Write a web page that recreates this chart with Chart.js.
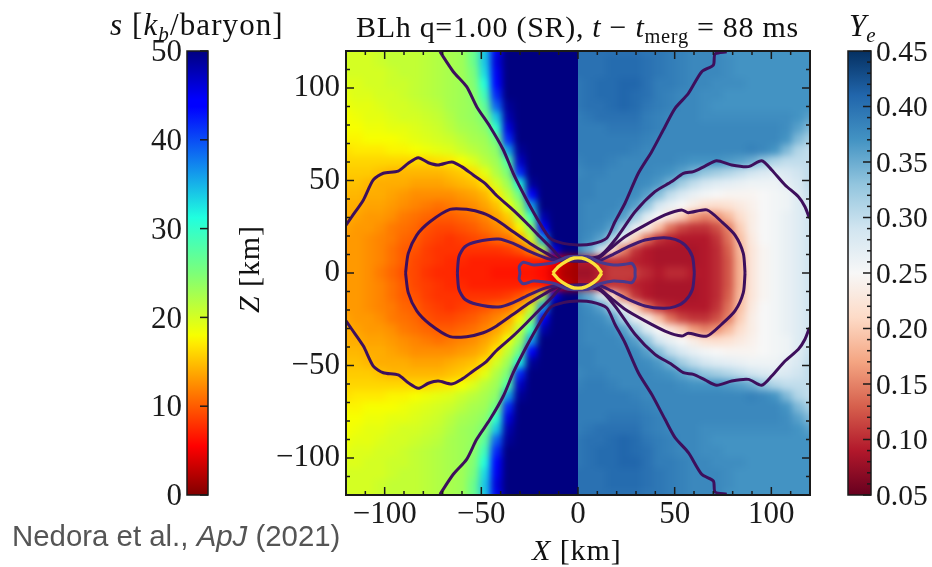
<!DOCTYPE html>
<html>
<head>
<meta charset="utf-8">
<style>
  html, body { margin: 0; padding: 0; background: #fff; width: 932px; height: 567px; overflow: hidden; }
  canvas { position: absolute; left: 0; top: 0; }
  .clip { position: absolute; left: 0; top: 0; width: 932px; height: 567px; }
  .clip canvas { filter: blur(3.5px); }
  .txt { position: absolute; font-family: "Liberation Serif", serif; color: #111; white-space: nowrap; line-height: 1; }
  .txt i { font-style: italic; }
  .txt sub { font-size: 68%; line-height: 0; vertical-align: -0.28em; }
  #credit { font-family: "Liberation Sans", sans-serif; color: #555; font-size: 29.4px; left: 12px; top: 521px; }
</style>
</head>
<body>
<div class="clip" style="clip-path: inset(51px 354px 72px 346px)"><canvas id="heatLeft" width="932" height="567"></canvas></div>
<div class="clip" style="clip-path: inset(51px 122px 72px 578px)"><canvas id="heatRight" width="932" height="567"></canvas></div>
<canvas id="mainChart" width="932" height="567"></canvas>
<canvas id="sBar" width="932" height="567"></canvas>
<canvas id="yeBar" width="932" height="567"></canvas>

<div class="txt" style="left:110px;top:9px;font-size:31px;letter-spacing:1.1px"><i>s</i> [<i>k<sub>b</sub></i>/baryon]</div>
<div class="txt" style="left:356px;top:12px;font-size:30px;letter-spacing:0.7px"><span>BLh q=1.00 (SR), <i>t</i> − <i>t</i><sub>merg</sub> = 88 ms</span></div>
<div class="txt" style="left:849px;top:10px;font-size:31px"><i>Y<sub>e</sub></i></div>
<div class="txt" style="left:532px;top:535px;font-size:30px;letter-spacing:0.9px"><i>X</i> [km]</div>
<div class="txt" style="left:209px;top:258px;font-size:30px;letter-spacing:0.9px;width:80px;text-align:center;transform:rotate(-90deg)"><i>Z</i> [km]</div>
<div class="txt" id="credit">Nedora et al., <i>ApJ</i> (2021)</div>

<script src="https://cdn.jsdelivr.net/npm/chart.js@4"></script>
<script>
// axis ticks
const xTicks = [-100, -50, 0, 50, 100];
const xMinorTicks = [-110, -90, -80, -70, -60, -40, -30, -20, -10, 10, 20, 30, 40, 60, 70, 80, 90, 110];
const zTicks = [100, 50, 0, -50, -100];
const zMinorTicks = [110, 90, 80, 70, 60, 40, 30, 20, 10, -10, -20, -30, -40, -60, -70, -80, -90, -110];
const sTicks = [0, 10, 20, 30, 40, 50];
const yeTicks = [0.05, 0.10, 0.15, 0.20, 0.25, 0.30, 0.35, 0.40, 0.45];
const yeMinorTicks = [0.06, 0.07, 0.08, 0.09, 0.11, 0.12, 0.13, 0.14, 0.16, 0.17, 0.18, 0.19, 0.21, 0.22, 0.23, 0.24,
  0.26, 0.27, 0.28, 0.29, 0.31, 0.32, 0.33, 0.34, 0.36, 0.37, 0.38, 0.39, 0.41, 0.42, 0.43, 0.44];

// grid: rows z = 120, 114 ... 0
const sCols = [-120, -114, -108, -102, -96, -90, -84, -78, -72, -66, -60, -54, -48, -42, -36, -30, -24, -18, -12, -6, 0];
const yeCols = [0, 6, 12, 18, 24, 30, 36, 42, 48, 54, 60, 66, 72, 78, 84, 90, 96, 102, 108, 114, 120];
const zRows = [120, 114, 108, 102, 96, 90, 84, 78, 72, 66, 60, 54, 48, 42, 36, 30, 24, 18, 12, 6, 0];

const sRows = [
  [20,20,20,20.5,21,21,21,21.5,22,22.5,23,26,34,45,50,50,50,50,50,50,50],
  [20,20,20,20.5,21,21,21,21.5,22,22.5,23,26,34,46,50,50,50,50,50,50,50],
  [20,20,20,20,20.5,21,21,21.5,22,22.5,23,25,33,45,50,50,50,50,50,50,50],
  [19.5,19.5,20,20,20.5,20.5,21,21.5,22,22.5,23,24.5,31,44,50,50,50,50,50,50,50],
  [19,19.5,19.5,20,20,20.5,21,21.5,22,22.5,23,24,29,42,50,50,50,50,50,50,50],
  [18.5,19,19,19.5,20,20,20.5,21,21.5,22.5,23,23.5,27,39,49,50,50,50,50,50,50],
  [18,18.5,19,19,19.5,20,20,20.5,21,22,23,23.5,25,34,48,50,50,50,50,50,50],
  [18,18,18.5,18.5,19,19,19.5,20,20.5,21.5,22.5,23,24,30,46,50,50,50,50,50,50],
  [17.5,17.5,18,18,18,18.5,19,19.5,20,20.5,21.5,22.5,23,26,42,50,50,50,50,50,50],
  [16.5,17,17,17,17.5,17.5,18,18.5,19,19.5,20.5,21.5,22.5,24,36,49,50,50,50,50,50],
  [16,16,16,16,16,16,16,16,16.5,17,18,19.5,21.5,23,28,47,50,50,50,50,50],
  [15.5,15.5,15.5,15,14.5,14.5,14.5,14.5,14.5,15,15.5,16.5,19,22,25,42,50,50,50,50,50],
  [15,15,14.5,14,14,14,13.5,13.5,13.5,14,14.5,15,16.5,20,23,32,49,50,50,50,50],
  [14.5,14.5,14,14,13.5,13,12.5,12.5,12.5,12.5,13,13.5,14.5,17,21,26,44,50,50,50,50],
  [14,14,13.5,13.5,13,12.5,12,11.5,11,11.5,12,12.5,13.5,15,18.5,23,36,50,50,50,50],
  [14,13.5,13,13,12.5,11.5,11,10.5,10,10,10.5,11,12,13.5,15.5,21,29,48,50,50,50],
  [13.5,13,13,12.5,11.5,11,10.5,9.5,9,9,9.5,10,11,12,13.5,17.5,24,44,50,50,50],
  [13,13,12.5,12,11.5,10.5,10,9,8.5,8,8.5,9,9.5,10.5,11,13.5,20,36,50,50,50],
  [13,13,12.5,12,11,10,9.5,8.5,8,8,8,8,8,8,8.5,9.5,12,22,46,50,50],
  [13,13,12.5,12,11,10,9,8.5,8,7.5,7.5,7,7,7,7,7,7,6.5,5,3,1.5],
  [13,13,12.5,11.5,10.5,9.5,9,8,7.5,7.5,7,7,7,6.5,6.5,6.5,6.5,6,4,2,1.5],
];

const yeRows = [
  [.40,.40,.40,.40,.40,.40,.395,.395,.39,.385,.38,.38,.38,.37,.37,.37,.37,.37,.37,.37,.37],
  [.40,.40,.40,.405,.405,.405,.40,.395,.39,.385,.38,.38,.38,.375,.37,.37,.37,.37,.37,.37,.37],
  [.40,.40,.40,.405,.405,.405,.40,.395,.39,.385,.38,.38,.38,.375,.37,.37,.37,.37,.37,.37,.37],
  [.395,.40,.405,.405,.41,.41,.40,.39,.39,.385,.38,.38,.375,.375,.375,.37,.37,.37,.37,.37,.37],
  [.395,.40,.405,.405,.41,.405,.40,.39,.385,.38,.38,.375,.375,.37,.37,.37,.37,.37,.37,.37,.37],
  [.395,.40,.40,.405,.41,.405,.395,.39,.385,.38,.38,.375,.37,.37,.37,.37,.37,.37,.37,.37,.37],
  [.39,.395,.40,.40,.40,.40,.39,.385,.38,.38,.38,.375,.375,.375,.375,.375,.375,.375,.375,.37,.36],
  [.39,.39,.39,.395,.395,.395,.39,.385,.38,.38,.38,.38,.38,.38,.38,.38,.38,.38,.375,.36,.34],
  [.39,.39,.39,.39,.39,.39,.385,.38,.38,.38,.38,.38,.38,.38,.38,.38,.38,.38,.37,.34,.32],
  [.39,.39,.39,.39,.39,.385,.38,.38,.38,.38,.38,.38,.38,.38,.38,.385,.38,.37,.34,.31,.30],
  [.385,.39,.39,.385,.38,.38,.38,.38,.38,.375,.37,.37,.37,.365,.36,.35,.33,.31,.30,.30,.30],
  [.38,.385,.385,.38,.38,.38,.38,.375,.37,.36,.345,.33,.32,.31,.30,.29,.28,.275,.28,.29,.30],
  [.385,.385,.38,.38,.38,.38,.375,.365,.345,.32,.30,.285,.275,.27,.265,.26,.26,.26,.27,.28,.30],
  [.385,.385,.38,.38,.38,.375,.36,.335,.30,.28,.265,.255,.25,.245,.245,.245,.25,.255,.26,.275,.295],
  [.385,.38,.38,.38,.375,.36,.33,.285,.265,.25,.235,.22,.215,.22,.23,.24,.25,.255,.26,.275,.29],
  [.385,.38,.38,.375,.36,.32,.275,.25,.225,.20,.165,.15,.16,.185,.215,.235,.25,.255,.265,.275,.29],
  [.385,.38,.375,.36,.31,.265,.235,.19,.14,.115,.105,.105,.12,.15,.20,.235,.25,.255,.265,.275,.29],
  [.385,.375,.36,.31,.26,.20,.14,.105,.095,.09,.09,.09,.105,.14,.19,.23,.25,.255,.265,.275,.29],
  [.38,.35,.29,.22,.15,.105,.09,.085,.085,.085,.085,.09,.10,.13,.185,.225,.245,.255,.265,.275,.29],
  [.09,.09,.10,.105,.105,.095,.09,.085,.085,.085,.085,.09,.10,.125,.18,.225,.245,.255,.265,.275,.29],
  [.08,.08,.095,.11,.11,.11,.10,.09,.10,.10,.09,.09,.10,.125,.18,.225,.245,.255,.265,.275,.29],
];

// contours, upper half only, the lower half is the mirror
const contourOuterWedge = [[-71.4,119.6],[-64.5,108.8],[-57.6,100.7],[-52.4,89.9],[-45.5,79.1],[-38.6,66.5],[-33.5,53.9],[-26.5,39.5],[-19.7,26.9],[-14.5,18.8],[-7.6,16],[0,15.2],
  [7,15.7],[14.8,18.8],[19.1,27.7],[24.3,37.7],[31.2,53.9],[38.1,65.6],[45,79.1],[50.2,89],[57.1,97.1],[64,108.8],[70,112.4],[70.9,118.4],[76.9,119.6]];
const contourBlob = [[-120,25.9],[-117,30.4],[-111,39.5],[-105.9,50.3],[-100.7,53.9],[-93,55.1],[-87.8,59.3],[-82.6,62.3],[-77.4,59.6],[-72.3,58.4],[-65.3,60],[-60.2,57.5],[-54.2,53],[-48.1,48.5],[-42.1,41.9],[-33.5,34],[-26.5,26.9],[-19.7,19.6],[-12.8,12.4],[-8.4,7.9],
  [10.5,8.8],[19.1,17.8],[29.5,33.1],[39.8,44],[48.5,49.4],[54.5,53.9],[59.7,54.8],[65.7,57.8],[71.7,60.7],[79.5,58.4],[88.1,57.5],[95,60.7],[100.2,55.7],[107.1,47.6],[114,41.2],[117.4,35.8],[119.7,29.6]];
const contourMid = [[-89.2,0],[-87.8,10.6],[-83.4,20.5],[-76.6,27.7],[-66.2,34.4],[-57.6,34.4],[-49,32.3],[-42.1,28.6],[-33.5,22.3],[-24.8,16],[-16.2,10.6],[-9.3,7],
  [8.8,7],[15.7,12.4],[24.3,19.6],[34.7,25.9],[45,31.4],[53.6,34.1],[57,32.6],[66.6,34.1],[74.3,27.7],[81.2,20.5],[85.5,10.6],[86.4,0]];
const contourInner = [[-62.4,0],[-61.6,8.8],[-58.5,14.2],[-52.4,16.9],[-41.2,18.4],[-33.5,16],[-24.8,11.5],[-16.2,7.9],[-11,7],
  [10.5,6.6],[17.4,9.7],[26,14.2],[34.7,17.8],[44.1,19.1],[50.2,18.2],[55.4,15.1],[59.2,8.8],[60.2,0]];
const contourPeanut = [[-30,0],[-30.4,3.4],[-28.3,5.8],[-23.1,4.3],[-17.9,4.7],[-11.9,5.8],[-6,8.5],[0,9],[6,8.5],[11.4,5.8],[18.3,4.3],[24.3,4.7],[27.8,5.2],[29.5,2.5],[29.5,0]];
const contourCore = [[-13.1,0],[-10.2,3.4],[-5.8,6.5],[-2,8.1],[2,8.1],[6,6.5],[10,3.4],[12.3,0]];

// colormaps
const jetStops = [0, 0.11, 0.125, 0.375, 0.5, 0.64, 0.66, 0.89, 1];
const jetColors = [[0,0,128],[0,0,255],[0,0,255],[32,255,223],[124,255,121],[247,255,0],[255,234,0],[255,0,0],[128,0,0]];
const rdbuStops = [0, 0.1, 0.2, 0.3, 0.4, 0.5, 0.6, 0.7, 0.8, 0.9, 1];
const rdbuColors = [[103,0,31],[178,24,43],[214,96,77],[244,165,130],[253,219,199],[247,247,247],[209,229,240],[146,197,222],[67,147,195],[33,102,172],[5,48,97]];

const textFont = "Liberation Serif";
const inkColor = "#1a1a1a";

function mapColor(t, stops, colors) {
  t = Math.max(0, Math.min(1, t));
  let i = 0;
  while (i < stops.length - 2 && t > stops[i + 1]) i++;
  const f = (t - stops[i]) / (stops[i + 1] - stops[i]);
  const c = colors[i].map((v, k) => Math.round(v + (colors[i + 1][k] - v) * f));
  return `rgb(${c[0]},${c[1]},${c[2]})`;
}
const sColor = (v) => mapColor(1 - v / 50, jetStops, jetColors);
const yeColor = (v) => mapColor((v - 0.05) / 0.4, rdbuStops, rdbuColors);
const minusLabel = (v) => String(v).replace("-", "\u2212");

// ticks pointing inward, chart.js has one tick length per axis so they are done here
const insideTicks = {
  id: "insideTicks",
  afterDraw(chart, args, opts) {
    const { ctx, chartArea: a, scales } = chart;
    ctx.save();
    ctx.strokeStyle = inkColor;
    const mark = (x1, y1, x2, y2, w) => {
      ctx.lineWidth = w;
      ctx.beginPath();
      ctx.moveTo(x1, y1);
      ctx.lineTo(x2, y2);
      ctx.stroke();
    };
    (opts.x || []).forEach(([vals, len]) => vals.forEach((v) => {
      const p = scales.x.getPixelForValue(v);
      mark(p, a.bottom, p, a.bottom - len, 1.5);
      mark(p, a.top, p, a.top + len, 1.5);
    }));
    (opts.y || []).forEach(([vals, len]) => vals.forEach((v) => {
      const p = scales.y.getPixelForValue(v);
      mark(a.right, p, a.right - len, p, 1.5);
      if (opts.both) mark(a.left, p, a.left + len, p, 1.5);
    }));
    ctx.lineWidth = opts.frame;
    ctx.strokeRect(a.left, a.top, a.right - a.left, a.bottom - a.top);
    ctx.restore();
  },
};

// chart.js clips tick labels to the axis box, so the box stays big enough for them
function fixAxis(size) {
  return (scale) => {
    if (scale.isHorizontal()) scale.height = size; else scale.width = size;
  };
}

function heatCells(cols, rows, colorOf) {
  const pts = [], colors = [];
  const step = 6, pad = 3;
  for (let i = -pad; i < cols.length + pad; i++) {
    const ci = Math.max(0, Math.min(cols.length - 1, i));
    const x = cols[0] + i * step;
    for (let j = -pad; j < zRows.length; j++) {
      const v = rows[Math.max(0, j)][ci];
      const z = zRows[0] - j * step;
      pts.push({ x, y: z });
      colors.push(colorOf(v));
      if (z !== 0) { pts.push({ x, y: -z }); colors.push(colorOf(v)); }
    }
  }
  return { pts, colors };
}

function drawHeat(id, cols, rows, colorOf, xMin, xMax) {
  const cells = heatCells(cols, rows, colorOf);
  const pxX = (v) => 578 + v * (464 / 240);
  const pxY = (v) => 273 - v * (444 / 240);
  new Chart(document.getElementById(id), {
    type: "scatter",
    data: {
      datasets: [{
        data: cells.pts,
        backgroundColor: cells.colors,
        pointStyle: "rect",
        pointRadius: 9,
        pointBorderWidth: 0,
        clip: false,
      }],
    },
    options: {
      responsive: false,
      animation: false,
      events: [],
      layout: { padding: { left: pxX(xMin), right: 932 - pxX(xMax), top: pxY(140), bottom: 567 - pxY(-140) } },
      plugins: { legend: { display: false }, tooltip: { enabled: false } },
      scales: {
        x: { type: "linear", display: false, min: xMin, max: xMax },
        y: { type: "linear", display: false, min: -140, max: 140 },
      },
    },
  });
}

drawHeat("heatLeft", sCols, sRows, sColor, -140, 20);
drawHeat("heatRight", yeCols, yeRows, yeColor, -20, 140);

// main axes with the contours, first dataset ends up on top
const lineSets = [];
function addContour(points, color, width, tension) {
  [1, -1].forEach((sign) => {
    lineSets.push({
      data: points.map((p) => ({ x: p[0], y: sign * p[1] })),
      showLine: true,
      borderColor: color,
      borderWidth: width,
      pointRadius: 0,
      tension,
    });
  });
}
addContour(contourCore, "#fbe23a", 3.4, 0.1);
addContour(contourPeanut, "#483a8e", 3, 0.25);
addContour(contourInner, "#3f1a70", 3, 0.25);
addContour(contourMid, "#3d0f5c", 3, 0.25);
addContour(contourBlob, "#3d0f5c", 3, 0.25);
addContour(contourOuterWedge, "#3d0f5c", 3, 0.25);

const tickFont = { family: textFont, size: 31 };

new Chart(document.getElementById("mainChart"), {
  type: "scatter",
  data: { datasets: lineSets },
  options: {
    responsive: false,
    animation: false,
    events: [],
    layout: { padding: { left: 346 - 100, right: 932 - 810, top: 51, bottom: 0 } },
    plugins: {
      legend: { display: false },
      tooltip: { enabled: false },
      insideTicks: { x: [[xTicks, 8], [xMinorTicks, 4]], y: [[zTicks, 8], [zMinorTicks, 4]], both: true, frame: 2 },
    },
    scales: {
      x: {
        type: "linear", min: -120, max: 120, afterFit: fixAxis(567 - 495),
        afterBuildTicks: (s) => { s.ticks = xTicks.map((v) => ({ value: v })); },
        grid: { display: false, drawTicks: false }, border: { display: false },
        ticks: { autoSkip: false, maxRotation: 0, padding: 1, color: inkColor, font: tickFont, callback: minusLabel },
      },
      y: {
        type: "linear", min: -120, max: 120, afterFit: fixAxis(100),
        afterBuildTicks: (s) => { s.ticks = zTicks.map((v) => ({ value: v })); },
        grid: { display: false, drawTicks: false }, border: { display: false },
        ticks: { autoSkip: false, padding: 6, color: inkColor, font: tickFont, callback: minusLabel },
      },
    },
  },
  plugins: [insideTicks],
});

// colorbars, one bar filled with the colormap as a gradient
function drawBar(id, left, right, yMin, yMax, tickVals, position, colors, stops, reverse, tickOpts, fmt, fontSize) {
  const padLeft = position === "left" ? left - 60 : left;
  const padRight = position === "left" ? 932 - right : 0;
  new Chart(document.getElementById(id), {
    type: "bar",
    data: {
      labels: [id],
      datasets: [{
        data: [[yMin, yMax]],
        barPercentage: 1,
        categoryPercentage: 1,
        backgroundColor(c) {
          const a = c.chart.chartArea;
          if (!a) return "#888";
          const g = c.chart.ctx.createLinearGradient(0, a.bottom, 0, a.top);
          stops.forEach((s, i) => {
            const col = colors[i];
            g.addColorStop(reverse ? 1 - s : s, `rgb(${col[0]},${col[1]},${col[2]})`);
          });
          return g;
        },
      }],
    },
    options: {
      responsive: false,
      animation: false,
      events: [],
      layout: { padding: { left: padLeft, right: padRight, top: 51, bottom: 567 - 495 } },
      plugins: { legend: { display: false }, tooltip: { enabled: false }, insideTicks: tickOpts },
      scales: {
        x: { display: false },
        y: {
          type: "linear", position, min: yMin, max: yMax,
          afterFit: fixAxis(position === "left" ? 60 : 932 - right),
          afterBuildTicks: (s) => { s.ticks = tickVals.map((v) => ({ value: v })); },
          grid: { display: false, drawTicks: false }, border: { display: false },
          ticks: { autoSkip: false, padding: 5, labelOffset: 2, color: inkColor, font: { family: textFont, size: fontSize }, callback: fmt },
        },
      },
    },
    plugins: [insideTicks],
  });
}

drawBar("sBar", 187, 208, 0, 50, sTicks, "left", jetColors, jetStops, true, { y: [[sTicks, 8]], frame: 1.5 }, (v) => String(v), 31);
drawBar("yeBar", 848, 871, 0.05, 0.45, yeTicks, "right", rdbuColors, rdbuStops, false,
  { y: [[yeTicks, 8], [yeMinorTicks, 4]], frame: 1.5 }, (v) => v.toFixed(2), 29.5);
</script>
</body>
</html>
